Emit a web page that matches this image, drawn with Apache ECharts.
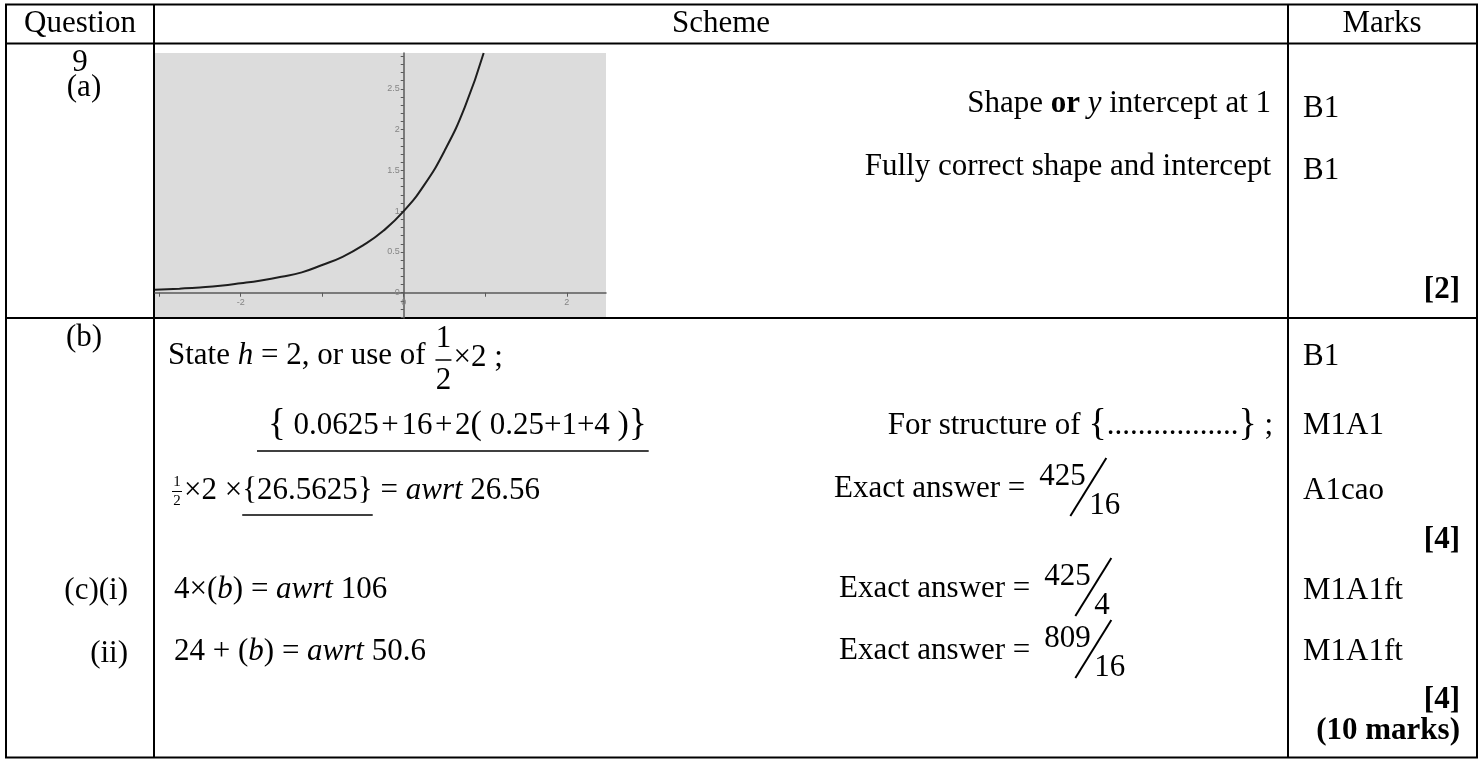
<!DOCTYPE html>
<html>
<head>
<meta charset="utf-8">
<title>Question 9 mark scheme</title>
<script src="https://cdn.jsdelivr.net/npm/echarts@6.0.0/dist/echarts.min.js"></script>
<style>
  html, body { margin: 0; padding: 0; background: #fff; }
  #main { width: 1483px; height: 759px; }
</style>
</head>
<body>
<div id="main"></div>
<script>
// curve (x, y pairs)
const curveX = [-3.05, -2.75, -2.5, -2.25, -2, -1.75, -1.5, -1.25, -1, -0.75, -0.5, -0.25, 0, 0.25, 0.5, 0.75, 0.98]
const curveY = [0.035, 0.05, 0.065, 0.085, 0.115, 0.15, 0.195, 0.25, 0.34, 0.44, 0.58, 0.76, 1.0, 1.32, 1.74, 2.28, 2.94]

const xTicks = [-3, -2, -1, 0, 1, 2]
const xLabels = [-2, 0, 2]
const yTicks = [-0.3, -0.2, -0.1, 0, 0.1, 0.2, 0.3, 0.4, 0.5, 0.6, 0.7, 0.8, 0.9, 1, 1.1, 1.2, 1.3, 1.4, 1.5,
  1.6, 1.7, 1.8, 1.9, 2, 2.1, 2.2, 2.3, 2.4, 2.5, 2.6, 2.7, 2.8, 2.9]
const yLabels = [0, 0.5, 1, 1.5, 2, 2.5]

const headers = ['Question', 'Scheme', 'Marks']
const marksA = ['B1', 'B1']
const marksB = ['B1', 'M1A1', 'A1cao']
const marksC = ['M1A1ft', 'M1A1ft']
const totals = ['[2]', '[4]', '[4]', '(10 marks)']

const FONT = "'Liberation Serif', 'Times New Roman', serif"
const FS = 31
const HS = '\u200A' // hair space for the tight maths spacing
const ctx = document.createElement('canvas').getContext('2d')

function measure(t, o = {}) {
  ctx.font = `${o.it ? 'italic ' : ''}${o.b ? 'bold ' : ''}${o.size || FS}px ${FONT}`
  return ctx.measureText(t).width
}

function txt(t, x, y, o = {}) {
  return {
    type: 'text', x, y, silent: true,
    style: {
      text: t, fill: '#000', fontFamily: FONT, fontSize: o.size || FS,
      fontStyle: o.it ? 'italic' : 'normal', fontWeight: o.b ? 'bold' : 'normal',
      align: o.align || 'left', verticalAlign: 'middle'
    }
  }
}

function line(x1, y1, x2, y2, w = 2) {
  return { type: 'line', silent: true, shape: { x1, y1, x2, y2 }, style: { stroke: '#000', lineWidth: w } }
}

const els = []

// lay pieces one after another, returns end x
function run(x, y, parts) {
  parts.forEach(([t, o = {}]) => {
    els.push(txt(t, x, y + (o.dy || 0), o))
    x += measure(t, o)
  })
  return x
}

function runRight(right, y, parts) {
  const w = parts.reduce((s, [t, o = {}]) => s + measure(t, o), 0)
  return run(right - w, y, parts)
}

// big slash fraction like 425/16
function slashFrac(x0, y, num, den) {
  els.push(txt(num, x0 + 14, y - 12))
  els.push(line(x0 + 45, y + 27, x0 + 81, y - 31, 2))
  els.push(txt(den, x0 + 64, y + 17))
}

// table frame
els.push({ type: 'rect', silent: true, shape: { x: 6, y: 4.5, width: 1471, height: 753 },
  style: { fill: 'none', stroke: '#000', lineWidth: 2 } })
els.push(line(6, 43.5, 1477, 43.5))
els.push(line(6, 318, 1477, 318))
els.push(line(154, 4.5, 154, 757.5))
els.push(line(1288, 4.5, 1288, 757.5))

// header
els.push(txt(headers[0], 80, 24, { align: 'center' }))
els.push(txt(headers[1], 721, 24, { align: 'center' }))
els.push(txt(headers[2], 1382, 24, { align: 'center' }))

// part (a)
els.push(txt('9', 80, 63, { align: 'center' }))
els.push(txt('(a)', 84, 88, { align: 'center' }))
runRight(1271, 104, [['Shape '], ['or', { b: true }], [' '], ['y', { it: true }], [' intercept at 1']])
els.push(txt('Fully correct shape and intercept', 1271, 167, { align: 'right' }))
els.push(txt(marksA[0], 1303, 109))
els.push(txt(marksA[1], 1303, 171))
els.push(txt(totals[0], 1460, 290, { align: 'right', b: true }))

// part (b)
els.push(txt('(b)', 84, 338, { align: 'center' }))
let x = run(168, 356, [['State '], ['h', { it: true }], [' = 2, or use of ']])
const fx = x + 10
els.push(txt('1', fx, 339, { align: 'center' }))
els.push(txt('2', fx, 381, { align: 'center' }))
els.push(line(fx - 8, 360, fx + 8, 360, 1.5))
run(fx + 10, 358, [['×2 ;']])

const exStart = 268
x = run(exStart, 426, [['{', { size: 37, dy: -1 }],
  [' 0.0625' + HS + '+' + HS + '16' + HS + '+' + HS + '2'], ['(', { size: 34, dy: -1 }],
  [' 0.25+1+4 '], [')', { size: 34, dy: -1 }], ['}', { size: 37, dy: -1 }]])
els.push(line(exStart - 11, 451, x + 2, 451, 1.5))
runRight(1273, 426, [['For structure of '], ['{', { size: 38, dy: -1 }], ['.................'],
  ['}', { size: 38, dy: -1 }], [' ;']])

els.push(txt('1', 177, 482, { align: 'center', size: 15 }))
els.push(txt('2', 177, 501, { align: 'center', size: 15 }))
els.push(line(172, 491.5, 182, 491.5, 1))
x = run(184, 491, [['×2 ×']])
const ulStart = x
x = run(x, 491, [['{'], ['26.5625'], ['}']])
els.push(line(ulStart, 515, x, 515, 1.5))
run(x, 491, [[' = '], ['awrt', { it: true }], [' 26.56']])

x = run(834, 489, [['Exact answer =']])
slashFrac(x, 489, '425', '16')

els.push(txt(marksB[0], 1303, 357))
els.push(txt(marksB[1], 1303, 426))
els.push(txt(marksB[2], 1303, 491))
els.push(txt(totals[1], 1460, 540, { align: 'right', b: true }))

// part (c)
els.push(txt('(c)(i)', 128, 591, { align: 'right' }))
els.push(txt('(ii)', 128, 654, { align: 'right' }))
run(174, 590, [['4×('], ['b', { it: true }], [') = '], ['awrt', { it: true }], [' 106']])
run(174, 652, [['24 + ('], ['b', { it: true }], [') = '], ['awrt', { it: true }], [' 50.6']])
x = run(839, 589, [['Exact answer =']])
slashFrac(x, 589, '425', '4')
x = run(839, 651, [['Exact answer =']])
slashFrac(x, 651, '809', '16')
els.push(txt(marksC[0], 1303, 591))
els.push(txt(marksC[1], 1303, 652))
els.push(txt(totals[2], 1460, 700, { align: 'right', b: true }))
els.push(txt(totals[3], 1460, 731, { align: 'right', b: true }))

// the sketch graph
const G = { left: 155, top: 53, width: 451, height: 265 }
const xRange = [-3.05, 2.48]
const yRange = [-0.31, 2.94]
// put both axes through the origin, labels included
const xAxisOffset = -G.height * (0 - yRange[0]) / (yRange[1] - yRange[0])
const yAxisOffset = -G.width * (0 - xRange[0]) / (xRange[1] - xRange[0])

const chart = echarts.init(document.getElementById('main'), null, { renderer: 'canvas' })

const axisGrey = '#5a5a5a'
const labelGrey = '#858585'

chart.setOption({
  backgroundColor: '#fff',
  animation: false,
  grid: {
    left: G.left, top: G.top, width: G.width, height: G.height,
    show: true, backgroundColor: '#dcdcdc', borderWidth: 0,
    outerBoundsMode: 'none'
  },
  xAxis: {
    type: 'value', min: xRange[0], max: xRange[1],
    position: 'bottom', offset: xAxisOffset,
    axisLine: { onZero: false, lineStyle: { color: axisGrey, width: 1.5 } },
    axisTick: { customValues: xTicks, length: 4, lineStyle: { color: axisGrey } },
    axisLabel: { customValues: xLabels, fontSize: 9, color: labelGrey, margin: 5 },
    splitLine: { show: false }
  },
  yAxis: {
    type: 'value', min: yRange[0], max: yRange[1],
    position: 'left', offset: yAxisOffset,
    axisLine: { onZero: false, lineStyle: { color: axisGrey, width: 1.5 } },
    axisTick: { customValues: yTicks, length: 3, lineStyle: { color: axisGrey } },
    axisLabel: { customValues: yLabels, fontSize: 9, color: labelGrey, margin: 4 },
    splitLine: { show: false }
  },
  series: [{
    type: 'line',
    data: curveX.map((v, i) => [v, curveY[i]]),
    smooth: true,
    symbol: 'none',
    clip: true,
    lineStyle: { color: '#1e1e1e', width: 2 }
  }],
  graphic: { elements: els }
})
</script>
</body>
</html>
